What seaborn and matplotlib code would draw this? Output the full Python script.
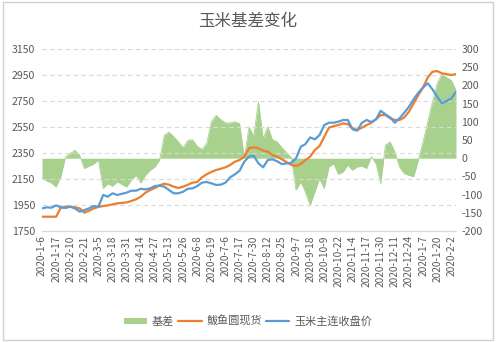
import numpy as np
import pandas as pd
import matplotlib
matplotlib.use("Agg")
import matplotlib.pyplot as plt
from matplotlib.patches import Rectangle, Patch
from matplotlib.lines import Line2D
import seaborn as sns

# ---------------- data (sampled every 3 trading days) ----------------
day = np.arange(0, 265, 3)

spot = [1860, 1860, 1860, 1860, 1929, 1937, 1937, 1932, 1924, 1891,
        1906, 1924, 1935, 1942, 1947, 1955, 1963, 1966, 1970, 1981,
        1994, 2014, 2045, 2065, 2081, 2101, 2114, 2106, 2091, 2081,
        2091, 2106, 2122, 2127, 2163, 2186, 2204, 2219, 2229, 2240,
        2258, 2283, 2296, 2322, 2386, 2394, 2386, 2368, 2360, 2334,
        2322, 2301, 2280, 2258, 2250, 2265, 2296, 2322, 2373, 2404,
        2475, 2545, 2557, 2565, 2578, 2572, 2540, 2527, 2545, 2565,
        2583, 2609, 2642, 2642, 2617, 2604, 2604, 2624, 2668, 2732,
        2796, 2855, 2932, 2975, 2980, 2963, 2957, 2950, 2957]

futures = [1924, 1932, 1929, 1947, 1932, 1927, 1937, 1924, 1899, 1911,
           1924, 1942, 1937, 2027, 2014, 2040, 2027, 2036, 2045, 2060,
           2060, 2075, 2070, 2078, 2096, 2099, 2091, 2065, 2040, 2040,
           2052, 2075, 2078, 2096, 2122, 2127, 2117, 2104, 2106, 2122,
           2163, 2186, 2214, 2283, 2322, 2329, 2271, 2240, 2296, 2301,
           2286, 2265, 2270, 2275, 2309, 2398, 2419, 2470, 2455, 2488,
           2565, 2583, 2583, 2591, 2604, 2604, 2532, 2522, 2583, 2604,
           2588, 2609, 2675, 2647, 2624, 2583, 2617, 2660, 2706, 2763,
           2814, 2855, 2886, 2840, 2783, 2732, 2750, 2770, 2821]

basis = [-56, -62, -68, -79, -51, 4, 13, 22, 8, -28,
         -22, -16, -5, -83, -70, -77, -65, -72, -79, -60,
         -47, -68, -47, -33, -24, -5, 63, 72, 59, 45,
         29, 49, 51, 33, 24, 40, 100, 118, 106, 97,
         97, 100, 95, 1, 86, 60, 155, 54, 86, 51,
         45, 29, 15, 1, -88, -65, -93, -129, -93, -56,
         -83, -24, -15, -44, -38, -19, -33, -24, -22, -28,
         4, -15, -70, 36, 45, 17, -24, -42, -47, -51,
         -5, 45, 100, 155, 205, 231, 222, 214, 187]

tick_labels = ["2020-1-6", "2020-1-17", "2020-2-10", "2020-2-21", "2020-3-5",
               "2020-3-18", "2020-3-31", "2020-4-14", "2020-4-27", "2020-5-13",
               "2020-5-26", "2020-6-8", "2020-6-19", "2020-7-6", "2020-7-17",
               "2020-7-30", "2020-8-12", "2020-8-25", "2020-9-7", "2020-9-18",
               "2020-10-9", "2020-10-22", "2020-11-4", "2020-11-17", "2020-11-30",
               "2020-12-11", "2020-12-24", "2020-1-7", "2020-1-20", "2020-2-2"]
tick_step = 9

title = "玉米基差变化"
names = ["基差", "鲅鱼圆现货", "玉米主连收盘价"]

df = pd.DataFrame({"day": day, "spot": spot, "futures": futures, "basis": basis})

# ---------------- style ----------------
sns.set_theme(style="white")
plt.rcParams["font.family"] = ["Noto Sans CJK SC", "DejaVu Sans"]
plt.rcParams["axes.unicode_minus"] = False

TXT = "#595959"
GREEN = "#A9D18E"
ORANGE = "#ED7D31"
BLUE = "#5B9BD5"
GRID = "#D9D9D9"

W, H = 499, 342
fig = plt.figure(figsize=(W / 100, H / 100), dpi=100)
fig.patch.set_facecolor("white")

ax = fig.add_axes([42 / W, 1 - 231 / H, (456 - 42) / W, (231 - 49) / H])
ax2 = ax.twinx()
ax.set_zorder(2)
ax2.set_zorder(1)
ax.patch.set_visible(False)
ax2.patch.set_facecolor("white")

# basis area (right axis)
ax2.fill_between(df["day"], 0, df["basis"], color=GREEN, lw=0)
sns.lineplot(data=df, x="day", y="basis", ax=ax2, color=GREEN, lw=0.6)

# price lines (left axis)
sns.lineplot(data=df, x="day", y="spot", ax=ax, color=ORANGE, lw=1.6)
sns.lineplot(data=df, x="day", y="futures", ax=ax, color=BLUE, lw=1.6)

ax.set_xlim(0, 264)
ax.set_ylim(1750, 3150)
ax.set_yticks(range(1750, 3151, 200))
ax2.set_ylim(-200, 300)
ax2.set_yticks(range(-200, 301, 50))

ticks = np.arange(0, len(tick_labels) * tick_step, tick_step)
ax.set_xticks(ticks)
ax.set_xticklabels(tick_labels, rotation=90, fontsize=7.3, color=TXT)
ax.tick_params(axis="x", length=0, pad=3)
ax.tick_params(axis="y", length=0, pad=5, labelsize=7.6, labelcolor=TXT)
ax2.tick_params(axis="y", length=0, pad=4, labelsize=7.6, labelcolor=TXT)

ax.set_xlabel("")
ax.set_ylabel("")
ax2.set_ylabel("")
ax2.set_xlabel("")

ax.yaxis.grid(True, color=GRID, lw=0.8, ls=(0, (4, 3)))
ax.xaxis.grid(False)
for a in (ax, ax2):
    for s in ("top", "left", "right"):
        a.spines[s].set_visible(False)
    a.spines["bottom"].set_color(GRID)
    a.spines["bottom"].set_linewidth(0.8)

# title
fig.text(247.5 / W, 1 - 21.5 / H, title, ha="center", va="center",
         fontsize=11.9, color=TXT)

# legend
handles = [Patch(facecolor=GREEN, edgecolor="none"),
           Line2D([], [], color=ORANGE, lw=1.6),
           Line2D([], [], color=BLUE, lw=1.6)]
leg = fig.legend(handles, names, loc="center", bbox_to_anchor=(248 / W, 1 - 321.5 / H),
                 ncol=3, frameon=False, fontsize=8, handlelength=2.1,
                 handleheight=0.55, handletextpad=0.45, columnspacing=0.35)
for t in leg.get_texts():
    t.set_color(TXT)

# chart-area border
fig.patches.append(Rectangle((2.5 / W, 2 / H), 490 / W, 338 / H,
                             transform=fig.transFigure, fill=False,
                             edgecolor="#D0D0D0", lw=1.0))

fig.savefig("out.png", dpi=100)
